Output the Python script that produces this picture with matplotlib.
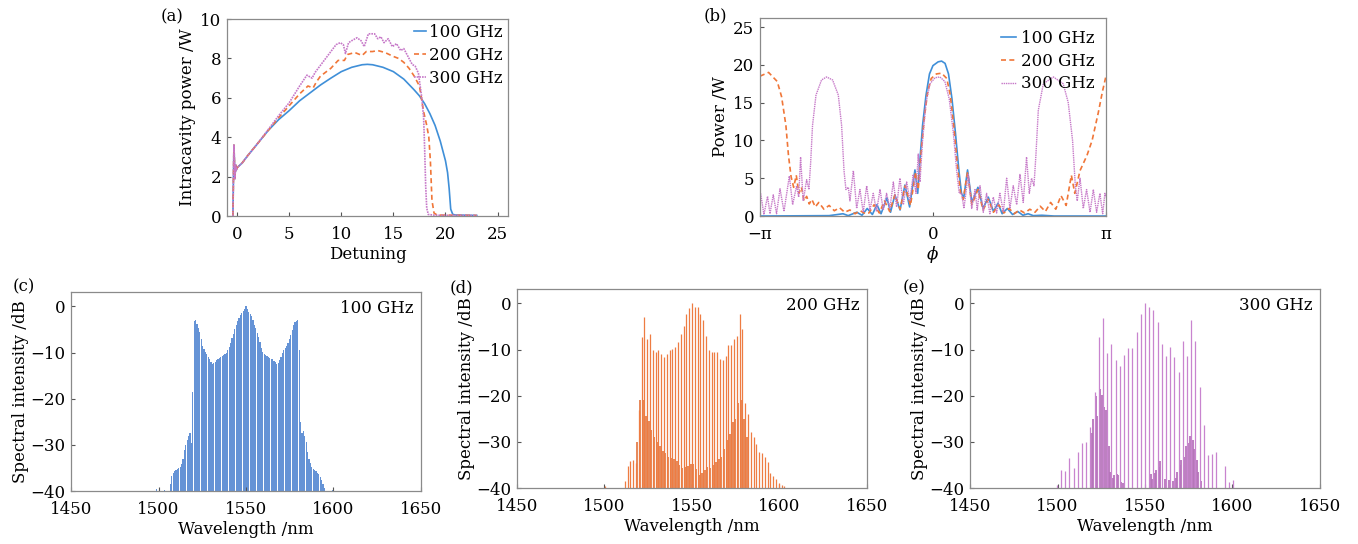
import numpy as np
import matplotlib
matplotlib.use('Agg')
from matplotlib import pyplot as plt

plt.rcParams['font.family'] = 'DejaVu Serif'
plt.rcParams['mathtext.fontset'] = 'dejavuserif'
plt.rcParams['font.size'] = 12

labels = ['100 GHz', '200 GHz', '300 GHz']
c_blue = '#3f8fd8'
c_orange = '#f07638'
c_purple = '#c678c8'

# (a) intracavity power vs detuning
det_100 = [-0.4, -0.35, -0.3, -0.2, -0.15, -0.1, 0.0, 0.5, 1, 2, 3, 4, 5, 6, 7, 8, 9, 10, 11, 12,
           12.5, 13, 14, 15, 16, 17, 17.5, 18, 18.5, 19, 19.5, 20, 20.2, 20.35, 20.5, 20.7, 21, 23]
pow_100 = [0, 1.8, 3.6, 1.9, 2.6, 2.3, 2.45, 2.7, 3.05, 3.7, 4.35, 4.9, 5.35, 5.85, 6.25, 6.65, 7.0, 7.33, 7.55, 7.68,
           7.7, 7.68, 7.55, 7.33, 6.95, 6.4, 6.1, 5.7, 5.2, 4.6, 3.8, 2.8, 2.2, 1.4, 0.35, 0.08, 0.05, 0.03]
det_200 = [-0.4, -0.35, -0.3, -0.2, -0.15, -0.1, 0.0, 0.5, 1, 2, 3, 4, 5, 6, 6.8, 7.3, 7.6, 8, 9, 9.7,
           10.3, 10.6, 11.3, 12, 12.4, 13.0, 13.5, 14.2, 15, 15.5, 16, 16.5, 17, 17.5, 17.9, 18.2, 18.4, 18.55,
           18.7, 18.9, 19.2, 23]
pow_200 = [0, 1.8, 3.6, 1.9, 2.6, 2.3, 2.45, 2.7, 3.05, 3.7, 4.35, 5.0, 5.6, 6.2, 6.6, 6.5, 6.8, 7.1, 7.5, 7.9,
           7.9, 8.2, 8.3, 8.15, 8.35, 8.35, 8.4, 8.3, 8.1, 8.0, 7.8, 7.5, 7.1, 6.6, 5.3, 4.6, 4.0, 2.8,
           0.8, 0.15, 0.05, 0.03]
det_300 = [-0.4, -0.35, -0.3, -0.2, -0.15, -0.1, 0.0, 0.5, 1, 2, 3, 4, 5, 6, 6.7, 7.2, 7.5, 8, 8.5, 9,
           9.5, 9.9, 10.2, 10.4, 10.7, 11.0, 11.5, 11.9, 12.2, 12.6, 13.2, 13.5, 13.8, 14.1, 14.5, 14.9, 15.3,
           15.7, 16.0, 16.4, 16.8, 17.1, 17.4, 17.7, 17.9, 18.0, 18.1, 18.2, 18.35, 19, 23]
pow_300 = [0, 1.8, 3.6, 1.9, 2.6, 2.3, 2.45, 2.7, 3.05, 3.7, 4.4, 5.1, 5.75, 6.6, 7.15, 7.0, 7.3, 7.65, 8.0, 8.35,
           8.7, 8.8, 8.7, 8.25, 8.8, 8.9, 9.05, 8.9, 8.6, 9.25, 9.25, 9.0, 9.1, 8.8, 9.0, 8.6, 8.75,
           8.4, 8.5, 8.1, 7.7, 7.6, 7.25, 6.1, 5.0, 3.4, 1.5, 0.4, 0.08, 0.04, 0.03]

# (b) temporal power profile, phase in units of pi
phi_100 = [-1.0, -0.6, -0.52, -0.49, -0.44, -0.41, -0.38, -0.35, -0.324, -0.3, -0.266, -0.245, -0.22, -0.19,
           -0.162, -0.135, -0.104, -0.088, -0.075, -0.06, -0.04, -0.02, 0.0, 0.03, 0.05, 0.07, 0.09, 0.11,
           0.13, 0.15, 0.165, 0.178, 0.2, 0.225, 0.26, 0.29, 0.32, 0.35, 0.376, 0.4, 0.43, 0.46, 0.49, 0.52,
           0.55, 0.58, 0.63, 0.7, 1.0]
pb_100 = [0.0, 0.05, 0.3, 0.05, 0.5, 0.1, 1.0, 0.2, 1.5, 0.3, 2.4, 0.5, 2.8, 0.8,
          4.1, 1.2, 6.1, 3.0, 7.5, 12.0, 16.0, 18.8, 19.9, 20.4, 20.5, 20.2, 18.8, 15.5,
          11.0, 6.0, 3.0, 2.4, 6.1, 1.8, 3.8, 1.0, 2.5, 0.6, 1.7, 0.3, 1.0, 0.2, 0.6, 0.1,
          0.3, 0.05, 0.1, 0.0, 0.0]
phi_200 = [-1.0, -0.95, -0.9, -0.875, -0.85, -0.835, -0.82, -0.805, -0.79, -0.775, -0.76, -0.745, -0.73,
           -0.715, -0.7, -0.68, -0.66, -0.63, -0.6, -0.57, -0.54, -0.51, -0.48, -0.45, -0.42, -0.39, -0.37,
           -0.34, -0.31, -0.28, -0.25, -0.22, -0.19, -0.16, -0.13, -0.1, -0.085, -0.07, -0.05, -0.03, -0.01,
           0.02, 0.05, 0.08, 0.1, 0.12, 0.14, 0.16, 0.175, 0.2, 0.225, 0.26, 0.29, 0.32, 0.35, 0.38, 0.41,
           0.44, 0.47, 0.5, 0.53, 0.56, 0.59, 0.62, 0.65, 0.68, 0.71, 0.74, 0.77, 0.8, 0.82, 0.85, 0.89,
           0.92, 0.955, 0.98, 1.0]
pb_200 = [18.5, 19.0, 17.8, 15.8, 12.0, 8.0, 5.2, 3.8, 5.4, 3.0, 3.8, 2.0, 2.6,
          1.6, 2.2, 1.2, 1.8, 0.9, 1.4, 0.7, 1.1, 0.5, 0.8, 0.3, 0.7, 0.3, 0.4,
          1.5, 0.4, 2.0, 0.6, 2.8, 0.9, 4.0, 1.4, 5.8, 3.5, 8.0, 13.0, 16.5, 18.2,
          18.8, 18.9, 18.2, 16.0, 12.0, 7.0, 3.0, 2.2, 5.8, 1.5, 3.5, 0.8, 2.2, 0.5, 1.5, 0.4,
          1.0, 0.3, 0.8, 0.4, 0.9, 0.5, 1.3, 0.6, 1.8, 0.9, 2.7, 1.4, 5.4, 3.0, 6.0, 8.0,
          10.0, 13.6, 16.5, 18.5]
phi_300 = [-0.996, -0.977, -0.956, -0.942, -0.923, -0.904, -0.884, -0.861, -0.83, -0.811, -0.788, -0.776,
           -0.765, -0.75, -0.73, -0.717, -0.707, -0.696, -0.676, -0.644, -0.615, -0.58, -0.547, -0.528,
           -0.514, -0.503, -0.489, -0.48, -0.46, -0.441, -0.422, -0.403, -0.383, -0.364, -0.345, -0.326,
           -0.306, -0.287, -0.268, -0.249, -0.229, -0.21, -0.191, -0.171, -0.152, -0.133, -0.114, -0.098,
           -0.085, -0.075, -0.06, -0.04, -0.017, 0.012, 0.04, 0.069, 0.094, 0.118, 0.137, 0.152, 0.166,
           0.179, 0.204, 0.224, 0.243, 0.256, 0.272, 0.291, 0.31, 0.329, 0.349, 0.368, 0.387, 0.407,
           0.426, 0.445, 0.464, 0.484, 0.503, 0.522, 0.541, 0.557, 0.57, 0.584, 0.595, 0.609, 0.638,
           0.696, 0.753, 0.782, 0.807, 0.823, 0.834, 0.85, 0.869, 0.888, 0.908, 0.927, 0.946, 0.965,
           0.981, 0.994, 1.0]
pb_300 = [3.0, 0.2, 2.6, 0.3, 2.8, 0.3, 3.6, 0.6, 5.3, 1.5, 4.0, 2.5,
          7.8, 2.0, 4.8, 3.5, 7.0, 12.0, 16.0, 18.0, 18.4, 18.0, 16.0, 12.0,
          6.0, 3.5, 3.8, 2.0, 6.0, 1.0, 3.5, 0.5, 4.0, 0.8, 3.0, 0.6,
          3.5, 0.8, 3.0, 1.0, 4.5, 1.2, 5.0, 1.5, 4.5, 2.0, 5.5, 3.0,
          8.2, 4.5, 10.0, 15.0, 17.5, 18.3, 18.4, 17.8, 15.5, 11.0, 6.0, 3.0, 3.0,
          1.0, 5.5, 1.0, 3.5, 0.8, 4.0, 0.5, 3.0, 0.3, 2.5, 0.4, 3.0, 0.5,
          5.0, 1.0, 4.0, 1.5, 5.5, 1.8, 7.8, 3.0, 5.0, 4.0, 8.0, 14.0, 17.5,
          18.4, 17.5, 15.0, 10.0, 4.0, 2.0, 5.0, 1.0, 3.5, 0.5, 3.5, 0.5, 3.0,
          0.3, 3.0, 2.5]

# (c) 100 GHz comb, lines at 1550 + 0.8*n nm, n = -64..63
wl_100 = 1550 + 0.8 * np.arange(-64, 64)
db_100 = [-39.6, -40, -40, -40, -40, -40, -39.7, -40, -40, -40,
          -38.4, -36.8, -36.0, -35.6, -35.4, -35.3, -35.1, -34.7, -34.2, -33.0,
          -31.2, -30.0, -28.9, -28.0, -27.4, -29.5, -18.6, -3.2, -3.0, -3.8,
          -4.6, -5.5, -7.0, -8.6, -9.3, -9.9, -10.4, -10.9, -11.5, -12.1,
          -12.4, -12.3, -12.0, -11.6, -11.3, -11.1, -10.9, -10.8, -10.6, -10.3,
          -10.0, -9.5, -8.7, -7.9, -6.9, -6.0, -5.0, -4.0, -3.2, -2.5,
          -1.9, -1.5, -1.0, -0.6, 0.0, -0.6, -1.2, -1.7, -2.2, -3.0,
          -4.0, -4.8, -5.8, -6.6, -7.8, -9.0, -9.8, -10.3, -10.6, -10.8,
          -11.0, -11.1, -11.3, -11.5, -11.8, -12.1, -12.4, -12.2, -11.6, -10.9,
          -10.1, -9.4, -9.0, -8.6, -7.9, -7.0, -6.2, -5.2, -4.0, -3.5,
          -3.2, -3.0, -9.5, -25.0, -27.5, -27.0, -28.0, -29.4, -31.5, -33.0,
          -34.0, -34.8, -35.2, -35.5, -35.7, -36.0, -36.3, -36.9, -37.6, -38.5,
          -39.3, -40, -40, -40, -40, -40, -39.7, -40]

# (d) 200 GHz comb: main lines at 1550 + 1.6*m, weak lines in between
wl_200 = 1550 + 1.6 * np.arange(-31, 34)
db_200 = [-39.6, -40, -40, -40, -40, -40, -40,
          -38.5, -35.3, -34.2, -33.9, -34.5, -23.1, -7.3, -3.0, -7.7, -6.6,
          -10.2, -10.6, -10.2, -10.9, -11.6, -10.9, -10.2, -9.8, -9.5, -8.4,
          -6.6, -4.8, -2.3, -1.0, 0.0, -0.7, -0.7, -2.3, -3.7, -7.0,
          -10.2, -10.6, -10.6, -10.6, -12.0, -12.3, -11.3, -9.1, -9.1, -7.7,
          -7.0, -2.3, -5.5, -21.5, -24.0, -27.8, -29.0, -30.5, -32.1, -32.5,
          -33.2, -34.3, -36.8, -37.5, -38.0, -39.0, -39.4, -39.6]
wl_200_weak = 1550 + 1.6 * np.arange(-20, 20) + 0.8
db_200_weak = [-30.0, -21.0, -21.0, -24.5, -25.5, -27.5, -29.0, -30.0, -30.8, -32.0,
               -32.4, -33.2, -33.6, -33.8, -34.2, -35.0, -35.6, -35.5, -35.2, -34.8,
               -34.8, -35.8, -37.2, -36.8, -36.0, -35.4, -35.7, -35.0, -34.3, -33.8,
               -33.2, -31.5, -29.5, -28.2, -25.8, -25.0, -21.5, -21.0, -25.0, -29.0]

# (e) 300 GHz comb: main lines at 1550 + 2.4*k, weak lines in two clusters
wl_300 = 1550 + 2.4 * np.arange(-21, 22)
db_300 = [-39.3, -36.0, -36.4, -33.5, -35.7, -32.3, -30.3, -30.1, -26.7, -19.2,
          -7.3, -3.2, -10.8, -8.9, -12.2, -13.6, -11.1, -9.6, -9.7, -6.2,
          -2.4, 0.0, -0.9, -1.4, -4.1, -8.8, -11.3, -9.5, -11.6, -14.9,
          -8.2, -11.3, -3.6, -8.2, -18.2, -26.3, -32.8, -32.6, -32.3, -40.0,
          -35.3, -38.6, -38.3]
wl_300_weak = [1519.6, 1520.4, 1522.0, 1522.8, 1524.4, 1525.2, 1526.8, 1527.6, 1529.2, 1530.0,
               1531.6, 1532.4, 1534.0, 1534.8, 1536.4, 1537.2,
               1553.2, 1554.0, 1555.6, 1556.4, 1558.0, 1558.8, 1561.2, 1563.6, 1566.0, 1567.6,
               1568.4, 1570.0, 1570.8, 1572.4, 1573.2, 1574.8, 1575.6, 1577.2, 1578.0, 1579.6,
               1580.4, 1582.0]
db_300_weak = [-28.0, -25.0, -20.0, -24.5, -18.5, -19.8, -22.5, -23.0, -31.0, -36.5,
               -37.8, -37.2, -37.0, -37.2, -38.6, -39.0,
               -37.0, -38.0, -36.8, -36.2, -35.5, -34.2, -38.0, -38.2, -38.5, -37.8,
               -36.5, -35.0, -34.0, -33.2, -31.0, -30.2, -28.8, -29.5, -31.5, -34.0,
               -36.5, -38.5]


def style(ax):
    for s in ax.spines.values():
        s.set_color('#8a8a8a')
        s.set_linewidth(0.9)
    ax.tick_params(direction='in', length=3, width=0.8, color='#555555')
    ax.tick_params(axis='x', pad=7)
    ax.tick_params(axis='y', pad=4)


fig = plt.figure(figsize=(13.58, 5.44), dpi=100)

# ---- (a)
ax = fig.add_axes([0.1672, 0.6029, 0.2069, 0.3621])
ax.plot(det_100, pow_100, color=c_blue, lw=1.2, label=labels[0])
ax.plot(det_200, pow_200, color=c_orange, lw=1.2, ls=(0, (3, 2)), label=labels[1])
ax.plot(det_300, pow_300, color=c_purple, lw=1.2, ls=(0, (1, 0.6)), label=labels[2])
ax.set_xlim(-0.96, 26)
ax.set_ylim(0, 10)
ax.set_xticks([0, 5, 10, 15, 20, 25])
ax.set_yticks([0, 2, 4, 6, 8, 10])
ax.set_xlabel('Detuning', labelpad=2)
ax.set_ylabel('Intracavity power /W', labelpad=3)
ax.legend(loc='upper right', frameon=False, handlelength=0.7, handletextpad=0.2,
          labelspacing=0.35, borderaxespad=0.1, borderpad=0.2)
style(ax)

# ---- (b)
ax = fig.add_axes([0.5596, 0.6029, 0.2548, 0.3640])
ax.plot(np.array(phi_100) * np.pi, pb_100, color=c_blue, lw=1.2, label=labels[0])
ax.plot(np.array(phi_200) * np.pi, pb_200, color=c_orange, lw=1.2, ls=(0, (3, 2)), label=labels[1])
ax.plot(np.array(phi_300) * np.pi, pb_300, color=c_purple, lw=1.0, ls=(0, (1, 0.6)), label=labels[2])
ax.set_xlim(-np.pi, np.pi)
ax.set_ylim(0, 26.2)
ax.set_xticks([-np.pi, 0, np.pi])
ax.set_xticklabels(['\u2212\u03c0', '0', '\u03c0'])
ax.set_yticks([0, 5, 10, 15, 20, 25])
ax.set_xlabel(r'$\phi$', labelpad=1)
ax.set_ylabel('Power /W', labelpad=3)
ax.legend(loc='upper right', frameon=False, handlelength=0.9, handletextpad=0.3,
          labelspacing=0.35, borderaxespad=0.5, borderpad=0.2)
style(ax)

# ---- spectra
spec_boxes = [[0.0523, 0.0974, 0.2577, 0.3658],
              [0.3807, 0.1029, 0.2577, 0.3658],
              [0.7143, 0.1029, 0.2577, 0.3658]]
spec_axes = [fig.add_axes(b) for b in spec_boxes]

ax = spec_axes[0]
ax.bar(wl_100, np.array(db_100) + 40, bottom=-40, width=0.72, color='#6593d6', linewidth=0)

ax = spec_axes[1]
ax.bar(wl_200_weak, np.array(db_200_weak) + 40, bottom=-40, width=1.2, color='#e78a5c', linewidth=0)
ax.vlines(wl_200, -40, db_200, color='#ee7c42', lw=0.9)

ax = spec_axes[2]
ax.vlines(wl_300_weak, -40, db_300_weak, color='#b673bb', lw=1.3)
ax.vlines(wl_300, -40, db_300, color='#c884cf', lw=0.9)

for ax, lab in zip(spec_axes, labels):
    ax.set_xlim(1450, 1650)
    ax.set_ylim(-40, 3.1)
    ax.set_xticks([1450, 1500, 1550, 1600, 1650])
    ax.set_yticks([0, -10, -20, -30, -40])
    ax.set_xlabel('Wavelength /nm', labelpad=2)
    ax.set_ylabel('Spectral intensity /dB', labelpad=1)
    ax.text(0.98, 0.915, lab, transform=ax.transAxes, ha='right', va='center')
    style(ax)

for x, y, t in [(0.1267, 0.9688, '(a)'), (0.5265, 0.9706, '(b)'), (0.0177, 0.4724, '(c)'),
                (0.3400, 0.4700, '(d)'), (0.6728, 0.4700, '(e)')]:
    fig.text(x, y, t, ha='center', va='center')

fig.savefig('out.png', dpi=100)
